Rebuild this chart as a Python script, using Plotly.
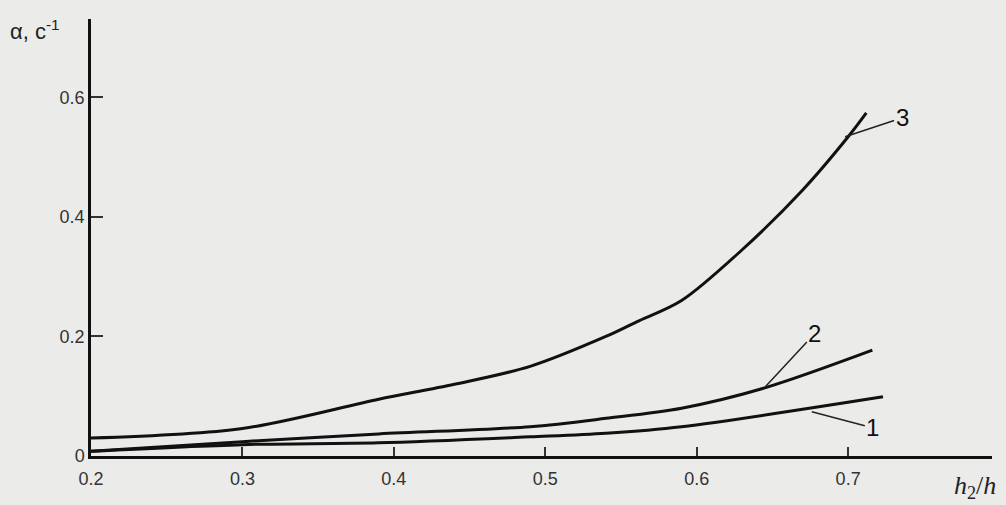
import plotly.graph_objects as go

# Curve data
x1 = [0.2, 0.3, 0.39, 0.49, 0.54, 0.59, 0.723]
y1 = [0.008, 0.019, 0.022, 0.032, 0.038, 0.049, 0.099]

x2 = [0.2, 0.3, 0.39, 0.49, 0.54, 0.59, 0.645, 0.716]
y2 = [0.008, 0.024, 0.037, 0.049, 0.063, 0.080, 0.114, 0.177]

x3 = [0.2, 0.3, 0.39, 0.44, 0.49, 0.54, 0.56, 0.59, 0.63, 0.67, 0.70, 0.712]
y3 = [0.030, 0.046, 0.095, 0.120, 0.150, 0.200, 0.224, 0.260, 0.345, 0.445, 0.534, 0.574]

curve_labels = ["1", "2", "3"]
label_points = [(0.676, 0.074), (0.645, 0.115), (0.698, 0.534)]
label_offsets = [(61, 16), (50, -54), (57, -19)]

x_ticks = [0.2, 0.3, 0.4, 0.5, 0.6, 0.7]
x_tick_text = ["0.2", "0.3", "0.4", "0.5", "0.6", "0.7"]
y_ticks = [0, 0.2, 0.4, 0.6]
y_tick_text = ["0", "0.2", "0.4", "0.6"]

bg = "#ebebea"
fig = go.Figure()
for xs, ys in [(x1, y1), (x2, y2), (x3, y3)]:
    fig.add_trace(go.Scatter(x=xs, y=ys, mode="lines",
                             line=dict(color="#111111", width=3, shape="spline", smoothing=0.9),
                             showlegend=False, hoverinfo="skip"))

for lab, (px, py), (ax, ay) in zip(curve_labels, label_points, label_offsets):
    fig.add_annotation(x=px, y=py, xref="x", yref="y", text=lab, showarrow=True,
                       arrowhead=0, arrowwidth=1.5, arrowcolor="#222222",
                       ax=ax, ay=ay, font=dict(family="Liberation Sans, Arial", size=24, color="#111111"))

fig.add_annotation(xref="paper", yref="paper", x=-0.092, y=0.975, xanchor="left", yanchor="middle",
                   text="α, c<sup>-1</sup>", showarrow=False,
                   font=dict(family="Liberation Sans, Arial", size=22, color="#222222"))
fig.add_annotation(xref="paper", yref="paper", x=0.981, y=-0.072, xanchor="center", yanchor="middle",
                   text="<i>h</i><sub>2</sub>/<i>h</i>", showarrow=False,
                   font=dict(family="Liberation Serif, Times New Roman", size=26, color="#222222"))

fig.update_layout(
    width=1006, height=505,
    margin=dict(l=91, r=14, t=19, b=49),
    paper_bgcolor=bg, plot_bgcolor=bg,
    xaxis=dict(range=[0.2, 0.795], tickvals=x_ticks, ticktext=x_tick_text,
               ticks="inside", ticklen=9, tickwidth=1.5, tickcolor="#333333",
               ticklabelstandoff=5,
               showline=True, linecolor="#111111", linewidth=2.5, showgrid=False, zeroline=False,
               tickfont=dict(family="Liberation Sans, Arial", size=18, color="#333333")),
    yaxis=dict(range=[0, 0.731], tickvals=y_ticks, ticktext=y_tick_text,
               ticks="inside", ticklen=12, tickwidth=1.5, tickcolor="#333333",
               showline=True, linecolor="#111111", linewidth=2.5, showgrid=False, zeroline=False,
               tickfont=dict(family="Liberation Sans, Arial", size=18, color="#333333")),
)

fig.write_html("out.html", config={"displayModeBar": False},
               post_script="document.body.style.margin='0';document.body.style.background='%s';" % bg)
